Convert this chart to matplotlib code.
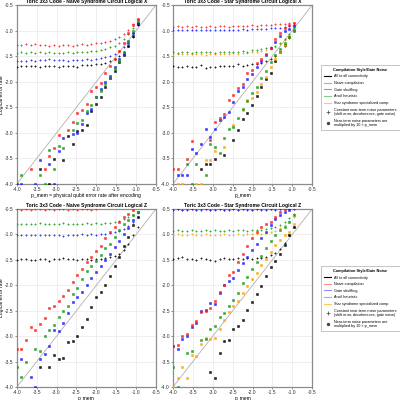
import numpy as np
import matplotlib
matplotlib.use('Agg')
import matplotlib.pyplot as plt
from matplotlib.lines import Line2D

plt.rcParams['font.family'] = ['Liberation Sans', 'DejaVu Sans']

nan = np.nan

# log10(p_mem) sample points
p_mem_log = [-4.000, -3.883, -3.766, -3.649, -3.532, -3.415, -3.298, -3.181, -3.064,
             -2.947, -2.830, -2.713, -2.596, -2.479, -2.362, -2.245, -2.128, -2.011,
             -1.894, -1.777, -1.660, -1.543, -1.426, -1.309, -1.192, -1.075, -0.958]

# ---- Naive syndrome circuit, logical X (top left)
tl_const_red = [-1.28, -1.29, -1.27, -1.28, -1.27, -1.28, -1.29, -1.30, -1.29, -1.30, -1.28, -1.29, -1.30, -1.28,
                -1.27, -1.28, -1.27, -1.25, -1.24, -1.22, -1.20, -1.17, -1.12, -1.06, -0.98, -0.88, -0.78]
tl_const_green = [-1.43, -1.42, -1.44, -1.42, -1.43, -1.41, -1.43, -1.42, -1.43, -1.44, -1.43, -1.42, -1.43, -1.42,
                  -1.41, -1.42, -1.40, -1.40, -1.38, -1.36, -1.33, -1.30, -1.25, -1.17, -1.07, -0.95, -0.83]
tl_const_blue = [-1.60, -1.59, -1.60, -1.58, -1.59, -1.57, -1.58, -1.56, -1.57, -1.58, -1.57, -1.59, -1.58, -1.57,
                 -1.58, -1.56, -1.57, -1.55, -1.54, -1.52, -1.50, -1.46, -1.40, -1.32, -1.20, -1.05, -0.86]
tl_const_black = [-1.72, -1.70, -1.70, -1.69, -1.70, -1.71, -1.70, -1.70, -1.69, -1.71, -1.70, -1.69, -1.70, -1.71,
                  -1.68, -1.67, -1.68, -1.66, -1.65, -1.63, -1.60, -1.56, -1.50, -1.42, -1.30, -1.12, -0.90]
tl_scaled_red = [nan, nan, nan, -3.70, nan, nan, -3.70, -3.45, -3.30, -3.05, nan, -2.94, -2.78, -2.61,
                 -2.56, -2.43, -2.19, -2.11, -2.02, -1.82, -1.70, -1.55, -1.40, -1.25, -1.05, -0.90, -0.78]
tl_scaled_green = [nan, -3.82, nan, nan, nan, -3.82, -4.00, -3.34, -3.70, -3.26, -3.30, nan, -2.95, -2.81,
                   -2.75, -2.58, -2.45, -2.30, -2.18, -2.05, -1.92, -1.75, -1.60, -1.42, -1.20, -1.00, -0.82]
tl_scaled_blue = [-4.00, -4.00, nan, nan, -4.00, -3.53, nan, -3.60, -4.00, -3.35, -3.10, nan, -3.02, -3.01,
                  -2.82, -2.62, -2.53, -2.30, -2.15, -2.00, -1.88, -1.72, -1.55, -1.45, -1.25, -1.05, -0.86]
tl_scaled_black = [nan, nan, nan, nan, nan, -3.70, nan, -4.00, -3.52, nan, -3.53, -3.06, -3.21, -2.97,
                   -2.95, -2.85, -2.57, -2.44, -2.30, -2.10, -1.92, -1.80, -1.62, -1.48, -1.30, -1.10, -0.88]

# ---- Star syndrome circuit, logical X (top right)
tr_const_red = [-0.93, -0.92, -0.93, -0.92, -0.93, -0.92, -0.93, -0.93, -0.92, -0.93, -0.91, -0.92, -0.93, -0.92,
                -0.91, -0.92, -0.91, -0.90, -0.91, -0.90, -0.89, -0.89, -0.88, -0.88, -0.87, -0.86, -0.85]
tr_const_blue = [-0.99, -0.98, -0.99, -0.98, -0.99, -0.99, -0.98, -0.99, -0.98, -0.99, -0.98, -0.98, -0.99, -0.98,
                 -0.98, -0.97, -0.98, -0.97, -0.97, -0.96, -0.96, -0.95, -0.95, -0.94, -0.93, -0.92, -0.90]
tr_const_green = [-1.42, -1.43, -1.42, -1.42, -1.43, -1.41, -1.42, -1.41, -1.42, -1.43, -1.41, -1.42, -1.41, -1.42,
                  -1.41, -1.40, -1.41, -1.38, -1.38, -1.36, -1.35, -1.33, -1.30, -1.24, -1.16, -1.06, -0.95]
tr_const_orange = [-1.46, -1.45, -1.46, -1.45, -1.46, -1.46, -1.45, -1.47, -1.46, -1.45, -1.46, -1.45, -1.46, -1.44,
                   -1.45, -1.44, -1.43, -1.42, -1.41, -1.40, -1.38, -1.36, -1.32, -1.26, -1.18, -1.08, -0.98]
tr_const_black = [-1.70, -1.72, -1.71, -1.69, -1.72, -1.71, -1.68, -1.74, -1.71, -1.71, -1.70, -1.70, -1.69, -1.70,
                  -1.65, -1.70, -1.67, -1.66, -1.65, -1.63, -1.60, -1.56, -1.50, -1.42, -1.30, -1.15, -1.00]
tr_scaled_red = [-3.70, -3.70, nan, -3.52, -3.16, nan, nan, nan, -3.14, -2.78, -2.70, -2.63, -2.35, -2.26,
                 -2.13, -2.05, -1.82, -1.77, -1.63, -1.55, -1.45, -1.35, -1.17, -1.05, -0.95, -0.90, -0.86]
tr_scaled_blue = [nan, -3.83, -3.83, -3.83, -3.31, -3.40, -3.22, -2.93, -3.09, -2.93, -2.75, -2.69, -2.60, -2.39,
                  -2.18, -2.10, -1.95, -1.85, -1.72, -1.60, -1.48, -1.35, -1.22, -1.10, -1.00, -0.96, -0.92]
tr_scaled_green = [nan, nan, nan, -3.60, -4.00, -3.60, nan, -3.83, -3.22, -3.27, -3.40, -3.11, -2.92, -2.88,
                   -2.70, -2.54, -2.37, -2.23, -2.10, -1.92, -1.80, -1.62, -1.48, -1.36, -1.25, -1.12, -1.00]
tr_scaled_orange = [nan, -4.00, -4.00, nan, nan, -4.00, -4.00, -3.54, -3.54, -3.35, nan, -3.27, nan, -2.85,
                    nan, -2.56, -2.36, -2.31, -2.20, -2.05, -1.90, -1.72, -1.55, -1.42, -1.28, -1.12, -0.98]
tr_scaled_black = [nan, nan, nan, nan, nan, nan, -3.70, -3.60, -3.60, -3.52, nan, -3.44, nan, -3.14,
                   -2.95, -2.72, -2.62, -2.46, -2.27, -2.10, -1.95, -1.82, -1.60, -1.42, -1.28, -1.12, -0.98]

# ---- Naive syndrome circuit, logical Z (bottom left)
bl_const_red = [-0.50, -0.51, -0.50, -0.51, -0.50, -0.50, -0.51, -0.50, -0.51, -0.50, -0.50, -0.51, -0.50, -0.51,
                -0.50, -0.50, -0.51, -0.50, -0.45, -0.44, -0.43, -0.42, -0.40, -0.38, -0.36, -0.34, -0.32]
bl_const_green = [-0.79, -0.80, -0.79, -0.79, -0.80, -0.78, -0.79, -0.79, -0.80, -0.79, -0.78, -0.79, -0.80, -0.79,
                  -0.79, -0.78, -0.79, -0.78, -0.79, -0.78, -0.77, -0.75, -0.73, -0.70, -0.66, -0.62, -0.58]
bl_const_blue = [-1.01, -1.02, -1.01, -1.01, -1.02, -1.01, -1.01, -1.02, -1.01, -1.02, -1.03, -1.01, -1.02, -1.01,
                 -1.00, -1.01, -1.00, -1.01, -0.99, -0.99, -0.98, -0.96, -0.94, -0.90, -0.84, -0.76, -0.66]
bl_const_black = [-1.50, -1.49, -1.49, -1.50, -1.51, -1.49, -1.48, -1.53, -1.49, -1.48, -1.47, -1.49, -1.48, -1.50,
                  -1.49, -1.48, -1.50, -1.49, -1.48, -1.47, -1.45, -1.42, -1.38, -1.30, -1.18, -1.02, -0.85]
bl_scaled_red = [-3.25, -3.25, -3.07, -2.82, -2.88, -2.76, -2.65, -2.45, -2.40, -2.30, -2.22, -2.10, -1.94, -1.80,
                 -1.67, -1.55, -1.44, -1.33, -1.22, -1.08, -0.95, -0.85, -0.75, -0.65, -0.60, -0.52, nan]
bl_scaled_green = [-3.60, -3.81, -3.51, nan, -3.25, -3.30, -2.99, -2.88, -2.79, -2.62, -2.50, -2.40, -2.18, -2.05,
                   -1.88, -1.72, -1.62, -1.52, -1.40, -1.27, -1.18, -1.05, -0.92, -0.80, -0.72, -0.62, -0.55]
bl_scaled_blue = [nan, -3.44, nan, -3.81, -4.00, -3.44, -3.35, -3.20, -2.88, -2.90, -2.75, -2.55, -2.32, -2.24,
                  -2.14, -2.00, -1.86, -1.74, -1.62, -1.50, -1.38, -1.25, -1.12, -1.00, -0.88, -0.72, -0.55]
bl_scaled_black = [nan, nan, nan, nan, nan, -3.60, nan, -3.60, -3.38, -3.45, -3.42, -3.12, -3.09, -3.00,
                   -2.83, -2.67, -2.43, -2.24, -2.14, -2.00, -1.81, -1.63, -1.45, -1.22, -1.05, -0.82, -0.65]

# ---- Star syndrome circuit, logical Z (bottom right)
br_const_red = [-0.50, -0.50, -0.51, -0.50, -0.50, -0.51, -0.50, -0.50, -0.51, -0.50, -0.50, -0.51, -0.50, -0.50,
                -0.51, -0.50, -0.50, -0.51, -0.50, -0.50, -0.50, -0.50, -0.50, -0.50, -0.50, -0.50, -0.50]
br_const_blue = [-0.51, -0.50, -0.51, -0.51, -0.50, -0.51, -0.51, -0.50, -0.51, -0.51, -0.50, -0.51, -0.51, -0.50,
                 -0.51, -0.50, -0.51, -0.51, -0.50, -0.51, -0.51, -0.50, -0.51, -0.50, -0.50, -0.50, -0.50]
br_const_green = [-0.93, -0.92, -0.93, -0.94, -0.92, -0.93, -0.93, -0.92, -0.93, -0.92, -0.93, -0.93, -0.92, -0.93,
                  -0.92, -0.92, -0.93, -0.91, -0.92, -0.91, -0.90, -0.88, -0.86, -0.82, -0.76, -0.68, -0.60]
br_const_orange = [-1.01, -1.00, -1.01, -1.02, -1.00, -1.01, -1.01, -1.00, -1.01, -1.02, -1.01, -1.00, -1.01, -1.01,
                   -1.00, -1.01, -1.00, -1.00, -0.99, -0.99, -0.98, -0.96, -0.93, -0.88, -0.82, -0.74, -0.65]
br_const_black = [-1.48, -1.47, -1.45, -1.49, -1.48, -1.50, -1.47, -1.49, -1.50, -1.52, -1.48, -1.47, -1.49, -1.48,
                  -1.47, -1.49, -1.46, -1.48, -1.47, -1.46, -1.44, -1.41, -1.36, -1.28, -1.16, -1.02, -0.86]
br_scaled_red = [-3.20, -3.18, -3.00, -2.95, -2.79, -2.70, -2.53, -2.50, -2.45, -2.30, -2.14, -1.99, -1.80, -1.73,
                 -1.55, -1.39, -1.22, -1.08, -0.95, -0.85, -0.80, -0.75, -0.65, -0.55, -0.50, nan, nan]
br_scaled_blue = [-3.20, -3.25, -3.05, -2.99, -2.83, -2.75, -2.50, -2.48, -2.34, -2.37, -2.15, -2.00, -1.92, -1.85,
                  -1.70, -1.57, -1.45, -1.30, -1.18, -1.08, -0.95, -0.82, -0.70, -0.62, -0.55, -0.51, nan]
br_scaled_green = [-3.60, -4.00, nan, -3.33, -3.30, nan, -3.07, -3.05, -2.86, -2.80, -2.62, -2.55, -2.40, -2.29,
                   -2.16, -1.96, -1.83, -1.67, -1.55, -1.42, -1.27, -1.12, -1.02, -0.92, -0.85, -0.75, -0.62]
br_scaled_orange = [-4.00, -3.83, -3.60, -3.83, -3.38, -3.40, -3.15, -3.03, -3.05, -3.04, -2.85, -2.68, -2.52, -2.40,
                    -2.30, -2.15, -2.02, -1.88, -1.75, -1.60, -1.48, -1.35, -1.20, -1.10, -1.02, -0.95, -0.80]
br_scaled_black = [nan, nan, nan, nan, nan, nan, nan, nan, -3.70, -3.83, -3.33, -3.10, -3.07, -2.86,
                   -2.80, -2.68, -2.48, -2.32, -2.18, -2.02, -1.82, -1.65, -1.52, -1.38, -1.20, -1.02, -0.85]

COLORS = {'black': 'black', 'red': '#ff1a1a', 'blue': '#1a1aff', 'green': '#159a15', 'orange': '#ffa500'}
FS = 3.6


def draw_panel(ax, title, const, scaled, xlabel, ylabel=None):
    ax.plot([-4.0, -0.5], [-4.0, -0.5], color='#b0b0b0', lw=0.6, zorder=1)
    for name, ys in const.items():
        ax.plot(p_mem_log, ys, ls='none', marker='+', ms=2.1, mew=0.7,
                color=COLORS[name], alpha=0.85, zorder=3)
    for name, ys in scaled.items():
        ax.plot(p_mem_log, ys, ls='none', marker='s', ms=1.8, mew=0.4,
                mec=COLORS[name], mfc=COLORS[name], alpha=0.85, zorder=3)
    ax.set_xlim(-4.0, -0.5)
    ax.set_ylim(-4.0, -0.5)
    ticks = [-4.0, -3.5, -3.0, -2.5, -2.0, -1.5, -1.0, -0.5]
    ax.set_xticks(ticks)
    ax.set_yticks(ticks)
    ax.set_xticklabels(['%.1f' % t for t in ticks])
    ax.set_yticklabels(['%.1f' % t for t in ticks])
    ax.tick_params(labelsize=FS, length=1.2, width=0.4, pad=1, colors='#333333')
    ax.grid(True, color='#e4e4e4', lw=0.4)
    ax.set_axisbelow(True)
    for s in ax.spines.values():
        s.set_color('#8c8c8c')
        s.set_linewidth(0.9)
    ax.set_title(title, fontsize=FS, fontweight='bold', pad=1.5)
    ax.set_xlabel(xlabel, fontsize=FS, labelpad=1)
    if ylabel:
        ax.set_ylabel(ylabel, fontsize=FS, labelpad=1)


fig = plt.figure(figsize=(4, 4), dpi=100)
ax_tl = fig.add_axes([0.042, 0.540, 0.348, 0.4475])
ax_tr = fig.add_axes([0.4325, 0.540, 0.348, 0.4475])
ax_bl = fig.add_axes([0.042, 0.0325, 0.348, 0.445])
ax_br = fig.add_axes([0.4325, 0.0325, 0.348, 0.445])

draw_panel(ax_tl, 'Toric 3x3 Code - Naive Syndrome Circuit Logical X',
           {'black': tl_const_black, 'blue': tl_const_blue, 'green': tl_const_green, 'red': tl_const_red},
           {'black': tl_scaled_black, 'blue': tl_scaled_blue, 'green': tl_scaled_green, 'red': tl_scaled_red},
           'p_mem = physical qubit error rate after encoding', 'Logical error rate')
draw_panel(ax_tr, 'Toric 3x3 Code - Star Syndrome Circuit Logical X',
           {'black': tr_const_black, 'orange': tr_const_orange, 'green': tr_const_green,
            'blue': tr_const_blue, 'red': tr_const_red},
           {'black': tr_scaled_black, 'orange': tr_scaled_orange, 'green': tr_scaled_green,
            'blue': tr_scaled_blue, 'red': tr_scaled_red},
           'p_mem')
draw_panel(ax_bl, 'Toric 3x3 Code - Naive Syndrome Circuit Logical Z',
           {'black': bl_const_black, 'blue': bl_const_blue, 'green': bl_const_green, 'red': bl_const_red},
           {'black': bl_scaled_black, 'blue': bl_scaled_blue, 'green': bl_scaled_green, 'red': bl_scaled_red},
           'p_mem', 'Logical error rate')
draw_panel(ax_br, 'Toric 3x3 Code - Star Syndrome Circuit Logical Z',
           {'black': br_const_black, 'red': br_const_red, 'orange': br_const_orange,
            'green': br_const_green, 'blue': br_const_blue},
           {'black': br_scaled_black, 'orange': br_scaled_orange, 'green': br_scaled_green,
            'blue': br_scaled_blue, 'red': br_scaled_red},
           'p_mem')

legend_labels = ['All to all connectivity', 'Naive compilation', 'Gate shuffling', 'Ancil heuristic',
                 'Star syndrome specialized comp.',
                 'Constant near-term noise parameters\n(shift error, decoherence, gate noise)',
                 'Near-term noise parameters are\nmultiplied by 10 \u00d7 p_mem']


def make_handles():
    h = [Line2D([], [], color='black', lw=0.8),
         Line2D([], [], color=COLORS['red'], lw=0.8, alpha=0.5),
         Line2D([], [], color=COLORS['blue'], lw=0.8, alpha=0.5),
         Line2D([], [], color=COLORS['green'], lw=0.8, alpha=0.5),
         Line2D([], [], color=COLORS['orange'], lw=0.8, alpha=0.6),
         Line2D([], [], ls='none', marker='+', ms=2.2, mew=0.5, color='#444444'),
         Line2D([], [], ls='none', marker='o', ms=1.4, color='#444444')]
    return h


for top in (0.8425, 0.34):
    leg = fig.legend(make_handles(), legend_labels, loc='upper left', bbox_to_anchor=(0.7975, top),
                     fontsize=2.7, title='Compilation Style/Gate Noise', title_fontsize=2.8,
                     frameon=True, fancybox=False, edgecolor='#aaaaaa', handlelength=2.0,
                     borderpad=0.8, labelspacing=0.7, handletextpad=0.8)
    leg.get_title().set_fontweight('bold')
    leg.get_frame().set_linewidth(0.6)

fig.savefig('out.png', dpi=100)
